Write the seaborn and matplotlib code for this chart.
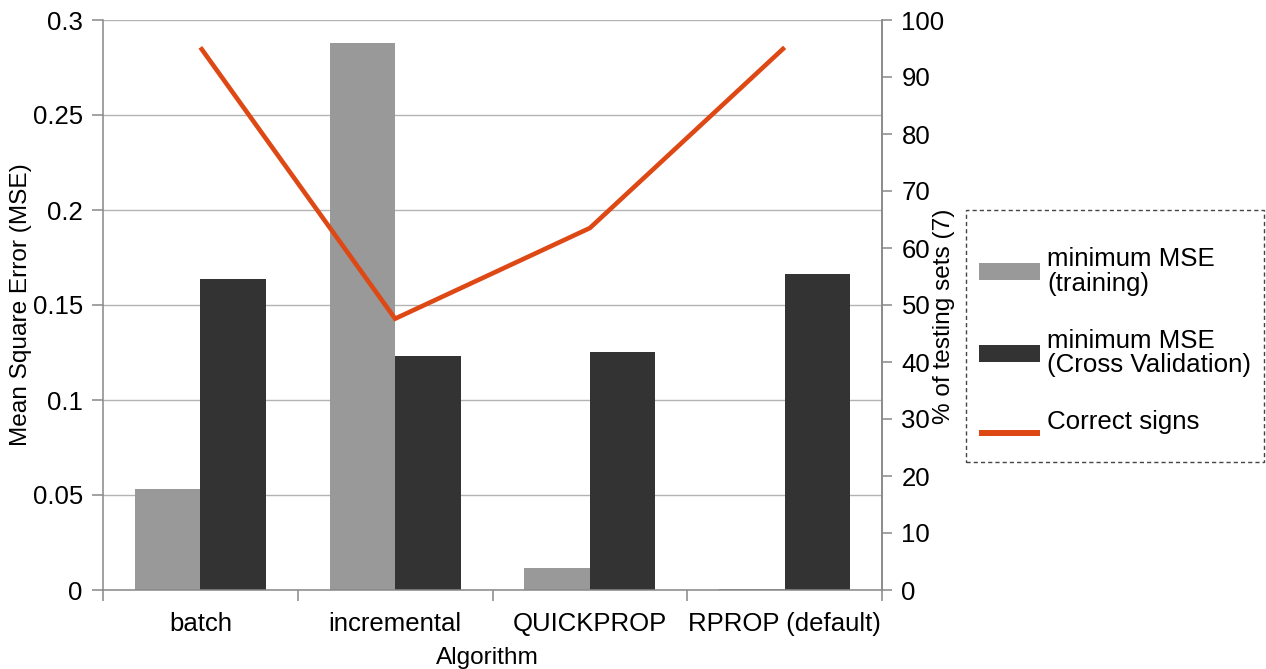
import numpy as np
import pandas as pd
import matplotlib
matplotlib.use("Agg")
import matplotlib.pyplot as plt
from matplotlib.patches import Patch, Rectangle
from matplotlib.legend_handler import HandlerPatch
import seaborn as sns

# ---------------- data ----------------
categories = ["batch", "incremental", "QUICKPROP", "RPROP (default)"]
mse_training = [0.053, 0.288, 0.0115, 0.0005]
mse_cv = [0.1637, 0.123, 0.1253, 0.1663]
correct_signs = [95.2, 47.6, 63.5, 95.2]

series_names = ["minimum MSE\n(training)", "minimum MSE\n(Cross Validation)"]
line_name = "Correct signs"

left_ticks = [0, 0.05, 0.1, 0.15, 0.2, 0.25, 0.3]
left_ticklabels = ["0", "0.05", "0.1", "0.15", "0.2", "0.25", "0.3"]
right_ticks = [0, 10, 20, 30, 40, 50, 60, 70, 80, 90, 100]

x_label = "Algorithm"
y_label = "Mean Square Error (MSE)"
y2_label = "% of testing sets (7)"

# ---------------- style ----------------
sns.set_theme(style="white")
plt.rcParams["font.family"] = ["Liberation Sans", "DejaVu Sans"]
plt.rcParams["text.color"] = "black"
plt.rcParams["axes.labelcolor"] = "black"
plt.rcParams["xtick.color"] = "black"
plt.rcParams["ytick.color"] = "black"

C_TRAIN = "#999999"
C_CV = "#333333"
C_LINE = "#DE4815"
C_AXIS = "#888888"
C_GRID = "#b3b3b3"

df = pd.DataFrame({
    "Algorithm": categories * 2,
    "MSE": mse_training + mse_cv,
    "Series": [series_names[0]] * len(categories) + [series_names[1]] * len(categories),
})
palette = {series_names[0]: C_TRAIN, series_names[1]: C_CV}

W, H = 1266, 669
fig = plt.figure(figsize=(W / 100, H / 100), dpi=100)
ax = fig.add_subplot(111)
fig.subplots_adjust(left=103 / W, right=882 / W, top=1 - 20 / H, bottom=1 - 590 / H)

sns.barplot(data=df, x="Algorithm", y="MSE", hue="Series", palette=palette,
            width=0.673, saturation=1, errorbar=None, legend=False, ax=ax,
            linewidth=0)
ax.set_axisbelow(True)

ax2 = ax.twinx()
positions = np.arange(len(categories))
sns.lineplot(x=positions, y=correct_signs, ax=ax2, color=C_LINE, linewidth=3.3,
             legend=False, solid_capstyle="butt", solid_joinstyle="miter")

ax.set_xlim(-0.5, len(categories) - 0.5)
ax.set_ylim(0, 0.3)
ax2.set_ylim(0, 100)

# ticks
ax.set_yticks(left_ticks)
ax.set_yticklabels(left_ticklabels)
ax2.set_yticks(right_ticks)
ax2.set_yticklabels([str(t) for t in right_ticks])

ax.set_xticks(positions)
ax.set_xticklabels(categories)
ax.set_xticks(np.arange(len(categories) + 1) - 0.5, minor=True)
ax.tick_params(axis="x", which="major", length=0, pad=15.5, labelsize=18.5, labelcolor="black")
ax.tick_params(axis="x", which="minor", length=8, width=1.1, color=C_AXIS, bottom=True)
ax.tick_params(axis="y", which="major", left=True, length=8, width=1.1, color=C_AXIS,
               pad=6.5, labelsize=18.5, labelcolor="black")
ax2.tick_params(axis="y", which="major", right=True, length=7.5, width=1.1, color=C_AXIS,
                pad=6.5, labelsize=18.5, labelcolor="black")

# grid & spines
ax.yaxis.grid(True, color=C_GRID, linewidth=1.0)
ax.xaxis.grid(False)
ax2.grid(False)
for a in (ax, ax2):
    a.spines["top"].set_visible(False)
    for s in ("left", "right", "bottom"):
        a.spines[s].set_color(C_AXIS)
        a.spines[s].set_linewidth(1.1)
ax2.spines["left"].set_visible(False)
ax2.spines["bottom"].set_visible(False)

# labels
ax.set_xlabel(x_label, fontsize=17.6, color="black")
ax.xaxis.set_label_coords((487.5 - 103) / 779, (590 - 647) / 570)
ax.set_ylabel(y_label, fontsize=17.6, color="black")
ax.yaxis.set_label_coords((32 - 103) / 779, 0.5)
ax2.set_ylabel(y2_label, fontsize=17.6, color="black")
ax2.yaxis.set_label_coords((933 - 103) / 779, (590 - 316) / 570)

# legend box
fig.patches.append(Rectangle((966 / W, 1 - 462 / H), 298 / W, 252 / H,
                             transform=fig.transFigure, fill=False,
                             edgecolor="#444444", linewidth=1.0,
                             linestyle=(0, (3, 2.2))))


def line_key(legend, orig_handle, xdescent, ydescent, width, height, fontsize):
    # thin horizontal key sitting just under the text baseline
    return Rectangle((-xdescent, -ydescent - 0.265 * fontsize), width, 0.22 * fontsize)


line_handle = Patch(facecolor=C_LINE, edgecolor="none")
handles = [Patch(facecolor=C_TRAIN, edgecolor="none"),
           Patch(facecolor=C_CV, edgecolor="none"),
           line_handle]
labels = series_names + [line_name]
leg = fig.legend(handles, labels, loc="upper left",
                 bbox_to_anchor=(979 / W, 1 - 247 / H), bbox_transform=fig.transFigure,
                 frameon=False, borderpad=0, borderaxespad=0, fontsize=18.6,
                 handlelength=2.36, handleheight=0.65, handletextpad=0.27,
                 labelspacing=1.27,
                 handler_map={line_handle: HandlerPatch(patch_func=line_key)})
for t in leg.get_texts():
    t.set_linespacing(1.04)
    t.set_color("black")
try:
    for col in leg._legend_handle_box.get_children():
        for item in col.get_children():
            for ch in item.get_children():
                if hasattr(ch, "_multilinebaseline"):
                    ch._multilinebaseline = True
except Exception:
    pass

fig.savefig("out.png", dpi=100)
